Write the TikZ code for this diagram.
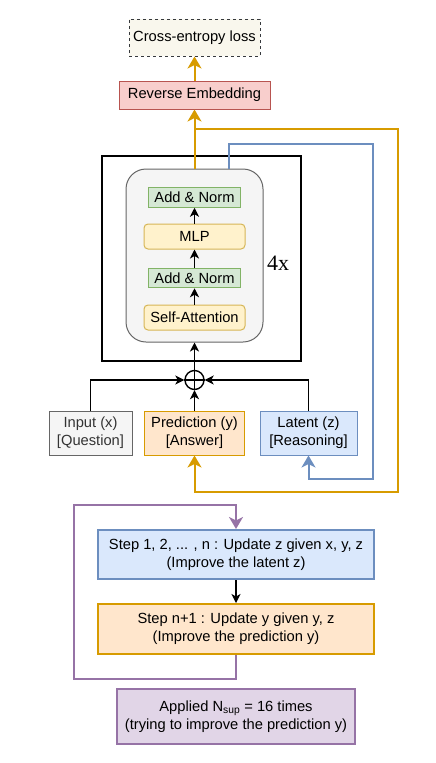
\documentclass[tikz,border=0pt]{standalone}
\usepackage{fontspec}
\setmainfont{Liberation Sans}
\newfontfamily\timesfont{Liberation Serif}
\usetikzlibrary{arrows.meta}

\definecolor{lossfill}{HTML}{F9F7ED}
\definecolor{lossline}{HTML}{36393D}
\definecolor{redfill}{HTML}{F8CECC}
\definecolor{redline}{HTML}{B85450}
\definecolor{grayfill}{HTML}{F5F5F5}
\definecolor{grayline}{HTML}{666666}
\definecolor{graytext}{HTML}{333333}
\definecolor{greenfill}{HTML}{D5E8D4}
\definecolor{greenline}{HTML}{82B366}
\definecolor{yellowfill}{HTML}{FFF2CC}
\definecolor{yellowline}{HTML}{D6B656}
\definecolor{orangefill}{HTML}{FFE6CC}
\definecolor{orangeline}{HTML}{D79B00}
\definecolor{bluefill}{HTML}{DAE8FC}
\definecolor{blueline}{HTML}{6C8EBF}
\definecolor{purplefill}{HTML}{E1D5E7}
\definecolor{purpleline}{HTML}{9673A6}

\tikzset{
  box/.style={draw, line width=1pt, inner sep=0pt, align=center},
  normbox/.style={box, fill=greenfill, draw=greenline, minimum width=92, minimum height=19.5},
  layerbox/.style={box, fill=yellowfill, draw=yellowline, rounded corners=4pt, minimum width=101, minimum height=25},
  databox/.style={box, minimum height=44},
  stepbox/.style={box, line width=2pt, minimum width=276},
  blackflow/.style={line width=1.2pt, -{Stealth[length=9pt,width=9pt,inset=2.5pt]}},
  orangeflow/.style={draw=orangeline, line width=2pt},
  blueflow/.style={draw=blueline, line width=2pt},
  purpleflow/.style={draw=purpleline, line width=2pt},
  colortip/.style={-{Stealth[length=12pt,width=14pt,inset=3.5pt]}}
}

\begin{document}
\begin{tikzpicture}[x=1pt, y=-1pt, font=\fontsize{14.7}{18.3}\selectfont]
  \useasboundingbox (0,0) rectangle (436,763);

  % output side
  \node[box, dashed, fill=lossfill, draw=lossline, minimum width=131, minimum height=37] (loss) at (194.5,37.5) {Cross-entropy loss};
  \node[box, fill=redfill, draw=redline, minimum width=151, minimum height=28] (rev) at (194.5,95) {Reverse Embedding};

  % transformer block
  \node[draw, line width=1.1pt, minimum width=199, minimum height=205, inner sep=0pt] (outer) at (201.5,258.5) {};
  \node[box, fill=grayfill, draw=grayline, rounded corners=20pt, minimum width=137, minimum height=173] (block) at (194.5,255.5) {};
  \node[normbox] (addtop) at (194.5,197.5) {Add \& Norm};
  \node[layerbox] (mlp) at (194.5,236.5) {MLP};
  \node[normbox] (addlow) at (194.5,278) {Add \& Norm};
  \node[layerbox] (attn) at (194.5,317.5) {Self-Attention};
  \node[font=\timesfont\fontsize{22}{24}\selectfont] (reps) at (278,263) {4x};

  % inputs
  \node[draw, circle, line width=1.4pt, minimum size=19, inner sep=0pt] (sum) at (194.5,380) {};
  \draw[line width=1.4pt] (sum.north) -- (sum.south) (sum.west) -- (sum.east);
  \node[databox, fill=grayfill, draw=grayline, text=graytext, minimum width=83] (inp) at (90.5,433) {Input (x)\\{}[Question]};
  \node[databox, fill=orangefill, draw=orangeline, minimum width=100] (pred) at (194.5,433) {Prediction (y)\\{}[Answer]};
  \node[databox, fill=bluefill, draw=blueline, minimum width=97] (lat) at (308.5,433) {Latent (z)\\{}[Reasoning]};

  % recursion steps
  \node[stepbox, fill=bluefill, draw=blueline, minimum height=49] (stepz) at (236,554.5) {Step 1, 2, ... , n : Update z given x, y, z\\(Improve the latent z)};
  \node[stepbox, fill=orangefill, draw=orangeline, minimum height=50] (stepy) at (236,629) {Step n+1 : Update y given y, z\\(Improve the prediction y)};
  \node[box, line width=2pt, fill=purplefill, draw=purpleline, minimum width=238, minimum height=55] (nsup) at (236,716.5) {Applied N\textsubscript{sup} = 16 times\\(trying to improve the prediction y)};

  \coordinate (osplit) at (194.5,129);
  \coordinate (oright) at (398,492);
  \coordinate (btop) at (229,144);
  \coordinate (bright) at (373,479);
  \coordinate (pleft) at (74,679);
  \coordinate (ptop) at (236,505);

  % black arrows
  \draw[blackflow] (inp.north) |- (sum.west);
  \draw[blackflow] (lat.north) |- (sum.east);
  \draw[blackflow] (pred.north) -- (sum.south);
  \draw[blackflow] (sum.north) -- (block.south);
  \draw[blackflow] (attn.north) -- (addlow.south);
  \draw[blackflow] (addlow.north) -- (mlp.south);
  \draw[blackflow] (mlp.north) -- (addtop.south);
  \draw[blackflow] (stepz.south) -- (stepy.north);

  % coloured loops
  \draw[orangeflow, colortip] (block.north) -- (rev.south);
  \draw[orangeflow, colortip] (rev.north) -- (loss.south);
  \draw[orangeflow, colortip] (osplit) -| (oright) -| (pred.south);
  \draw[blueflow, colortip] (block.north -| btop) -- (btop) -| (bright) -| (lat.south);
  \draw[purpleflow, colortip] (stepy.south) |- (pleft) |- (ptop) -- (stepz.north);
\end{tikzpicture}
\end{document}
